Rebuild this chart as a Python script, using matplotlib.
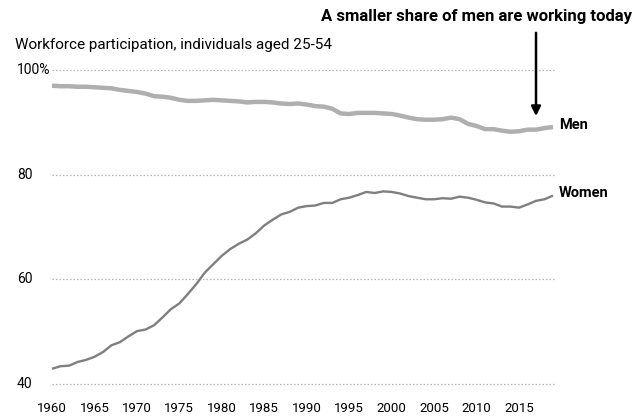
import matplotlib
matplotlib.use('Agg')
import matplotlib.pyplot as plt

years = list(range(1960, 2020))

men = [97.0, 96.9, 96.9, 96.8, 96.8, 96.7, 96.6, 96.5, 96.2, 96.0,
       95.8, 95.5, 95.0, 94.9, 94.7, 94.3, 94.1, 94.1, 94.2, 94.3,
       94.2, 94.1, 94.0, 93.8, 93.9, 93.9, 93.8, 93.6, 93.5, 93.6,
       93.4, 93.1, 93.0, 92.6, 91.7, 91.6, 91.8, 91.8, 91.8, 91.7,
       91.6, 91.3, 90.9, 90.6, 90.5, 90.5, 90.6, 90.9, 90.6, 89.7,
       89.3, 88.7, 88.7, 88.4, 88.2, 88.3, 88.6, 88.6, 88.9, 89.1]

women = [42.9, 43.4, 43.5, 44.2, 44.6, 45.2, 46.1, 47.4, 48.0, 49.1,
         50.1, 50.4, 51.2, 52.7, 54.3, 55.4, 57.2, 59.1, 61.3, 62.9,
         64.5, 65.8, 66.8, 67.6, 68.8, 70.3, 71.4, 72.4, 72.9, 73.7,
         74.0, 74.1, 74.6, 74.6, 75.3, 75.6, 76.1, 76.7, 76.5, 76.8,
         76.7, 76.4, 75.9, 75.6, 75.3, 75.3, 75.5, 75.4, 75.8, 75.6,
         75.2, 74.7, 74.5, 73.9, 73.9, 73.7, 74.3, 75.0, 75.3, 76.0]

y_ticks = [40, 60, 80, 100]
y_labels = ['40', '60', '80', '100%']
x_ticks = list(range(1960, 2020, 5))

FONT = ['Roboto', 'DejaVu Sans']
W, H = 638, 416

fig = plt.figure(figsize=(W / 100, H / 100), dpi=100)
fig.patch.set_facecolor('white')
ax = fig.add_axes([52 / W, (H - 384) / H, 501 / W, 314 / H])
ax.set_xlim(1960, 2019)
ax.set_ylim(40, 100)
ax.axis('off')

# dotted gridlines
for t in y_ticks:
    ax.plot([1960, 2019.1], [t, t], color='#b5b5b5', lw=0.9,
            linestyle=(0, (1.2, 1.6)), clip_on=False, zorder=1)

ax.plot(years, men, color='#afafaf', lw=3.2, solid_capstyle='butt',
        clip_on=False, zorder=3)
ax.plot(years, women, color='#7f7f7f', lw=1.7, solid_capstyle='butt',
        clip_on=False, zorder=3)

# y labels, left aligned in the margin
for t, lab in zip(y_ticks, y_labels):
    fig.text(17 / W, ax.transData.transform((0, t))[1] / H, lab,
             ha='left', va='center', fontsize=10, family=FONT)

# x labels
for x in x_ticks:
    ax.text(x, 35.4, str(x), ha='center', va='center', fontsize=9.5,
            family=FONT, clip_on=False)

# series labels
ax.text(years[-1] + 0.7, men[-1] + 0.3, 'Men', ha='left', va='center',
        fontsize=10.5, fontweight='bold', family=FONT)
ax.text(years[-1] + 0.7, women[-1] + 0.5, 'Women', ha='left', va='center',
        fontsize=10.5, fontweight='bold', family=FONT)

# subtitle and title
fig.text(15 / W, 1 - 45 / H, 'Workforce participation, individuals aged 25-54',
         ha='left', va='center', fontsize=11, family=FONT)
fig.text(632 / W, 1 - 16 / H, 'A smaller share of men are working today',
         ha='right', va='center', fontsize=12, fontweight='bold', family=FONT)

# arrow
ax.annotate('', xy=(2017, 91.2), xytext=(2017, 107.1),
            arrowprops=dict(arrowstyle='-|>', color='black', lw=1.8,
                            mutation_scale=14, shrinkA=0, shrinkB=0),
            annotation_clip=False)

fig.savefig('out.png', dpi=100, facecolor='white')
